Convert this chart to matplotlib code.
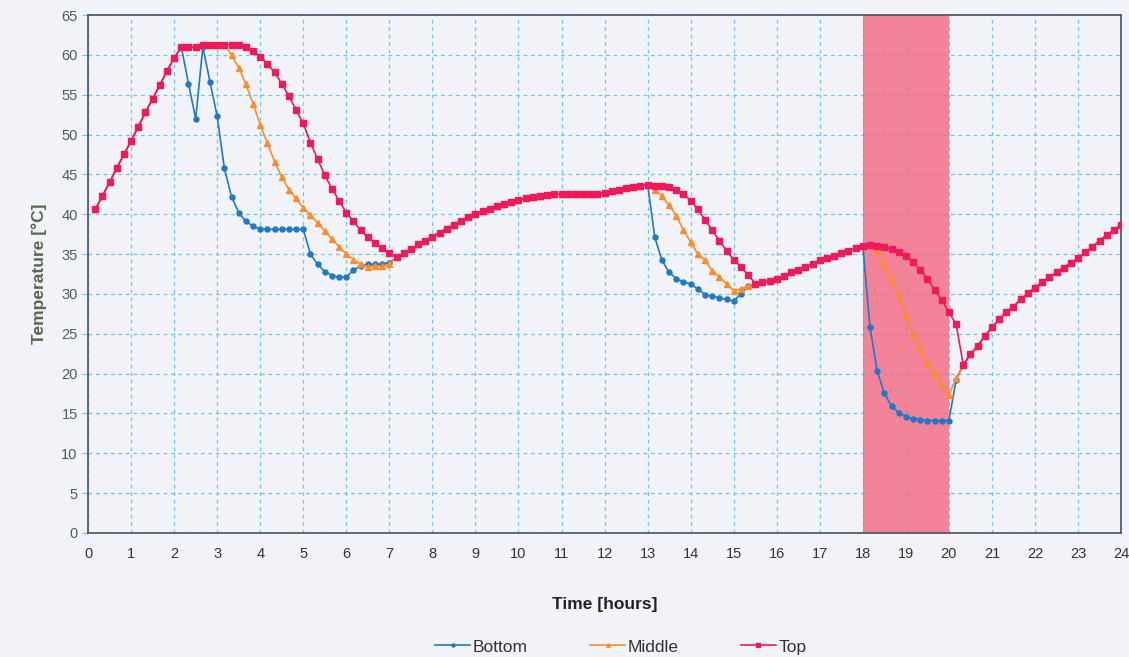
import numpy as np
import matplotlib.pyplot as plt

# 10-minute samples over one day
time_h = np.arange(1, 145) / 6.0

top = [
    40.6, 42.3, 44.0, 45.8, 47.5, 49.2, 51.0, 52.8, 54.5, 56.2, 58.0, 59.6,
    61.0, 61.0, 61.0, 61.3, 61.3, 61.3, 61.3, 61.3, 61.2, 61.0, 60.5, 59.8,
    58.9, 57.8, 56.4, 54.8, 53.1, 51.4, 49.0, 46.9, 44.9, 43.2, 41.7, 40.2,
    39.1, 38.0, 37.1, 36.4, 35.7, 35.1, 34.6, 35.1, 35.6, 36.2, 36.7, 37.2,
    37.7, 38.2, 38.7, 39.15, 39.6, 40.0, 40.4, 40.7, 41.0, 41.3, 41.5, 41.8,
    42.0, 42.2, 42.3, 42.45, 42.5, 42.6, 42.6, 42.6, 42.6, 42.6, 42.6, 42.7,
    42.9, 43.1, 43.3, 43.45, 43.6, 43.7, 43.6, 43.5, 43.4, 43.0, 42.5, 41.7,
    40.6, 39.3, 38.0, 36.7, 35.4, 34.3, 33.4, 32.4, 31.3, 31.5, 31.6, 31.9,
    32.3, 32.7, 33.0, 33.4, 33.8, 34.2, 34.5, 34.8, 35.1, 35.4, 35.7, 36.0,
    36.1, 36.0, 35.9, 35.6, 35.3, 34.75, 34.0, 33.0, 31.9, 30.5, 29.2, 27.7,
    26.2, 21.1, 22.4, 23.5, 24.7, 25.8, 26.8, 27.7, 28.4, 29.3, 30.1, 30.8,
    31.5, 32.1, 32.7, 33.3, 33.9, 34.5, 35.2, 35.9, 36.7, 37.4, 38.0, 38.7,
]

middle = [
    40.6, 42.3, 44.0, 45.8, 47.5, 49.2, 51.0, 52.8, 54.5, 56.2, 58.0, 59.6,
    61.0, 61.0, 61.0, 61.3, 61.3, 61.3, 61.3, 60.0, 58.4, 56.3, 53.9, 51.2,
    48.9, 46.6, 44.7, 43.1, 42.0, 40.8, 39.9, 38.9, 37.9, 36.9, 35.9, 35.0,
    34.3, 33.7, 33.4, 33.5, 33.5, 33.7, 34.6, 35.1, 35.6, 36.2, 36.7, 37.2,
    37.7, 38.2, 38.7, 39.15, 39.6, 40.0, 40.4, 40.7, 41.0, 41.3, 41.5, 41.8,
    42.0, 42.2, 42.3, 42.45, 42.5, 42.6, 42.6, 42.6, 42.6, 42.6, 42.6, 42.7,
    42.9, 43.1, 43.3, 43.45, 43.6, 43.7, 43.0, 42.3, 41.1, 39.8, 38.0, 36.5,
    35.0, 34.2, 32.9, 32.1, 31.25, 30.4, 30.6, 31.0, 31.3, 31.5, 31.6, 31.9,
    32.3, 32.7, 33.0, 33.4, 33.8, 34.2, 34.5, 34.8, 35.1, 35.4, 35.7, 36.0,
    36.1, 35.2, 33.7, 31.8, 29.7, 27.2, 25.0, 23.1, 21.3, 20.1, 18.5, 17.3,
    19.4, 21.1, 22.4, 23.5, 24.7, 25.8, 26.8, 27.7, 28.4, 29.3, 30.1, 30.8,
    31.5, 32.1, 32.7, 33.3, 33.9, 34.5, 35.2, 35.9, 36.7, 37.4, 38.0, 38.7,
]

bottom = [
    40.6, 42.3, 44.0, 45.8, 47.5, 49.2, 51.0, 52.8, 54.5, 56.2, 58.0, 59.6,
    61.0, 56.4, 52.0, 61.0, 56.6, 52.3, 45.75, 42.2, 40.2, 39.1, 38.5, 38.1,
    38.1, 38.1, 38.1, 38.1, 38.1, 38.1, 35.0, 33.7, 32.8, 32.3, 32.1, 32.1,
    33.0, 33.5, 33.7, 33.7, 33.75, 33.9, 34.6, 35.1, 35.6, 36.2, 36.7, 37.2,
    37.7, 38.2, 38.7, 39.15, 39.6, 40.0, 40.4, 40.7, 41.0, 41.3, 41.5, 41.8,
    42.0, 42.2, 42.3, 42.45, 42.5, 42.6, 42.6, 42.6, 42.6, 42.6, 42.6, 42.7,
    42.9, 43.1, 43.3, 43.45, 43.6, 43.7, 37.1, 34.2, 32.7, 31.9, 31.5, 31.25,
    30.6, 29.9, 29.7, 29.5, 29.3, 29.1, 30.0, 31.0, 31.3, 31.5, 31.6, 31.9,
    32.3, 32.7, 33.0, 33.4, 33.8, 34.2, 34.5, 34.8, 35.1, 35.4, 35.7, 36.0,
    25.8, 20.3, 17.5, 15.9, 15.1, 14.6, 14.3, 14.2, 14.1, 14.1, 14.1, 14.1,
    19.2, 21.1, 22.4, 23.5, 24.7, 25.8, 26.8, 27.7, 28.4, 29.3, 30.1, 30.8,
    31.5, 32.1, 32.7, 33.3, 33.9, 34.5, 35.2, 35.9, 36.7, 37.4, 38.0, 38.7,
]

shade_start, shade_end = 18, 20

plt.rcParams['font.family'] = ['Liberation Sans', 'DejaVu Sans']

bg = '#f1f3f9'
fig = plt.figure(figsize=(11.29, 6.57), dpi=100, facecolor=bg)
ax = fig.add_axes([0.078, 0.189, 0.915, 0.788])
ax.set_facecolor(bg)

ax.axvspan(shade_start, shade_end, color='#f36b83', alpha=0.82, lw=0, zorder=1)

ax.plot(time_h, bottom, color='#1f78c8', marker='o', ms=3.6, lw=1.2, label='Bottom', zorder=3)
ax.plot(time_h, middle, color='#ff8c2a', marker='^', ms=4.2, lw=1.2, label='Middle', zorder=4)
ax.plot(time_h, top, color='#f0195a', marker='s', ms=4.0, lw=1.2, label='Top', zorder=5)

ax.set_xlim(0, 24)
ax.set_ylim(0, 65)
ax.set_xticks(np.arange(0, 25, 1))
ax.set_yticks(np.arange(0, 66, 5))
ax.grid(True, color='#6cc4f0', ls=(0, (3, 3)), lw=0.9, zorder=0)
ax.set_axisbelow(True)

for s in ax.spines.values():
    s.set_color('#4a5060')
    s.set_linewidth(1.2)

ax.tick_params(axis='x', length=0, pad=10, labelsize=10.5, labelcolor='#333333')
ax.tick_params(axis='y', length=4, color='#6cc4f0', labelsize=10.5, labelcolor='#4e5e50')

ax.set_xlabel('Time [hours]', fontsize=12.5, fontweight='bold', color='#222222', labelpad=26)
ax.set_ylabel('Temperature [°C]', fontsize=12.5, fontweight='bold', color='#5a6650', labelpad=10)

fig.legend(loc='lower center', ncol=3, frameon=False, fontsize=12.5,
           bbox_to_anchor=(0.55, -0.02), handlelength=2.0, handletextpad=0.15,
           columnspacing=3.6, markerscale=0.6, labelcolor='#333333')

fig.savefig('out.png', dpi=100, facecolor=bg)
